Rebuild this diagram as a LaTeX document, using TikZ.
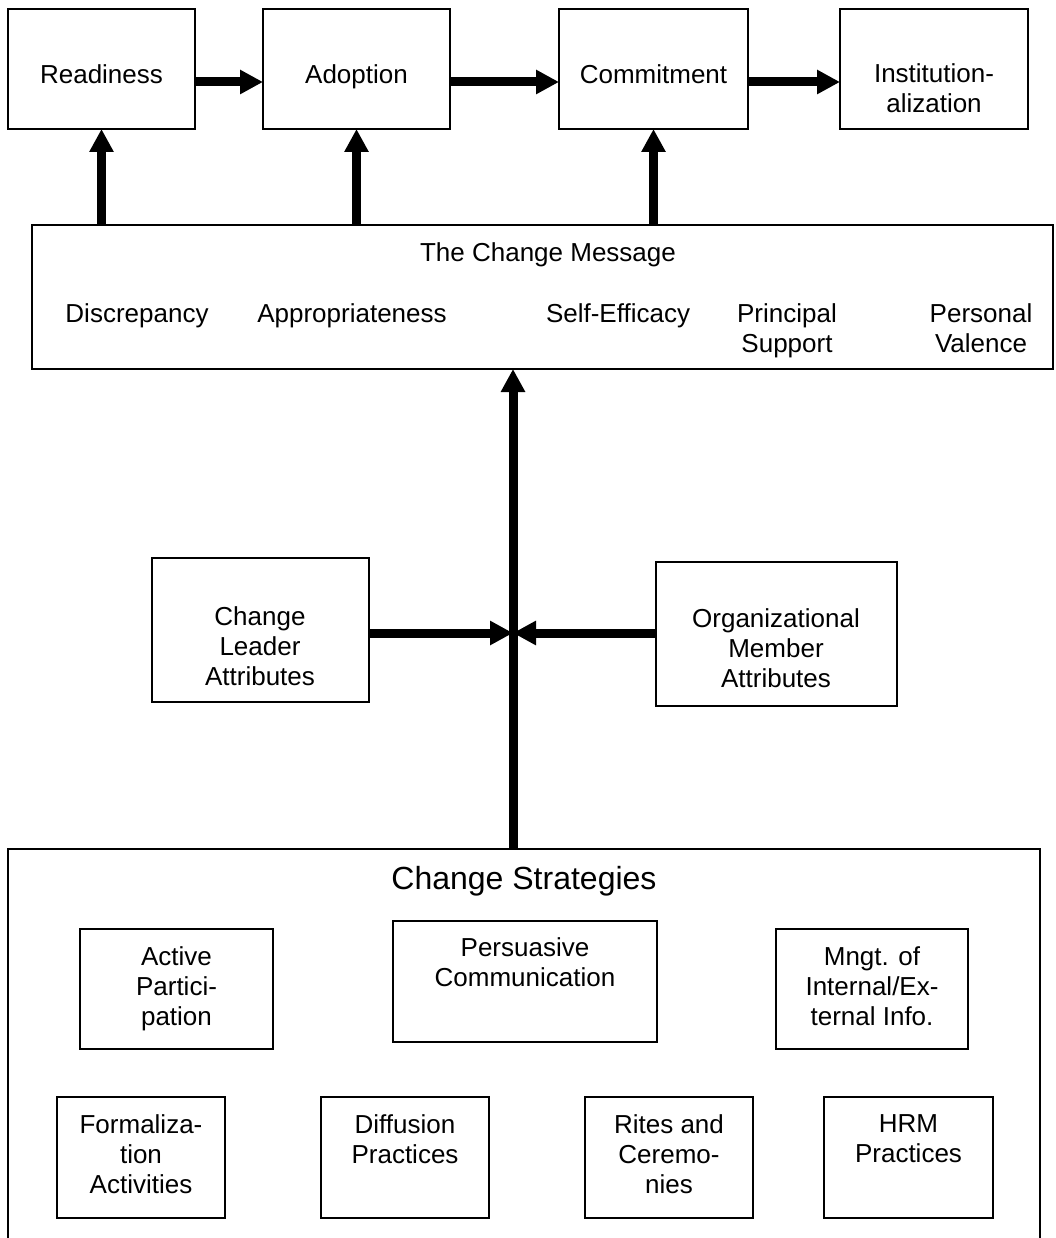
\documentclass[tikz,border=0pt]{standalone}
\usepackage{fontspec}
\setmainfont{Liberation Sans}
\usetikzlibrary{arrows.meta}
\begin{document}
\begin{tikzpicture}[x=1pt,y=-1pt,
  box/.style={draw=black,line width=1.6pt,inner sep=0pt,outer sep=0pt},
  txt/.style={anchor=north,inner sep=0pt,align=center,font=\fontsize{26}{30}\selectfont},
  bigtxt/.style={anchor=north,inner sep=0pt,align=center,font=\fontsize{32}{38}\selectfont},
  fat/.style={line width=9pt,-{Triangle[length=23pt,width=23pt]}}]
\useasboundingbox (0,0) rectangle (1056,1238);
\clip (0,0) rectangle (1056,1238);
% top row
\node[box,minimum width=187pt,minimum height=120pt] (rd) at (101.5,69) {};
\node[box,minimum width=187pt,minimum height=120pt] (ad) at (356.5,69) {};
\node[box,minimum width=189pt,minimum height=120pt] (cm) at (653.5,69) {};
\node[box,minimum width=188pt,minimum height=120pt] (in) at (934,69) {};
\node[txt] (trd) at (101.5,64) {Readiness};
\node[txt] (tad) at (356.5,64) {Adoption};
\node[txt] (tcm) at (653.5,64) {Commitment};
\node[txt] (tin) at (934,63) {Institution-\\alization};
% message box
\node[box,minimum width=1021pt,minimum height=144pt] (msg) at (542.5,297) {};
\node[txt] (tmsg) at (548,242) {The Change Message};
\node[txt] (m1) at (137,303) {Discrepancy};
\node[txt] (m2) at (352,303) {Appropriateness};
\node[txt] (m3) at (618,303) {Self-Efficacy};
\node[txt] (m4) at (787,303) {Principal\\Support};
\node[txt] (m5) at (981,303) {Personal\\Valence};
% attribute boxes
\node[box,minimum width=217pt,minimum height=144pt] (cl) at (260.5,630) {};
\node[box,minimum width=241pt,minimum height=144pt] (om) at (776.5,634) {};
\node[txt] (tcl) at (260,606) {Change\\Leader\\Attributes};
\node[txt] (tom) at (776,608) {Organizational\\Member\\Attributes};
% strategies
\node[box,minimum width=1032pt,minimum height=411pt] (st) at (524,1054.5) {};
\node[bigtxt] (tst) at (524,866) {Change Strategies};
\node[box,minimum width=193pt,minimum height=120pt] (ap) at (176.5,989) {};
\node[box,minimum width=264pt,minimum height=121pt] (pc) at (525,981.5) {};
\node[box,minimum width=192pt,minimum height=120pt] (mg) at (872,989) {};
\node[box,minimum width=168pt,minimum height=121pt] (fa) at (141,1157.5) {};
\node[box,minimum width=168pt,minimum height=121pt] (dp) at (405,1157.5) {};
\node[box,minimum width=168pt,minimum height=121pt] (rc) at (669,1157.5) {};
\node[box,minimum width=169pt,minimum height=121pt] (hr) at (908.5,1157.5) {};
\node[txt] (tap) at (176.5,946) {Active\\Partici-\\pation};
\node[txt] (tpc) at (525,937) {Persuasive\\Communication};
\node[txt] (tmg) at (872,946) {Mngt. of\\Internal/Ex-\\ternal Info.};
\node[txt] (tfa) at (141,1114) {Formaliza-\\tion\\Activities};
\node[txt] (tdp) at (405,1114) {Diffusion\\Practices};
\node[txt] (trc) at (669,1114) {Rites and\\Ceremo-\\nies};
\node[txt] (thr) at (908.5,1114) {HRM\\Practices};
% connectors
\draw[fat] ([yshift=-13pt]rd.east) -- ([yshift=-13pt]ad.west);
\draw[fat] ([yshift=-13pt]ad.east) -- ([yshift=-13pt]cm.west);
\draw[fat] ([yshift=-13pt]cm.east) -- ([yshift=-13pt]in.west);
\draw[fat] (msg.north -| rd.south) -- (rd.south);
\draw[fat] (msg.north -| ad.south) -- (ad.south);
\draw[fat] (msg.north -| cm.south) -- (cm.south);
\coordinate (j) at (513,633);
\draw[fat] (st.north -| j) -- (msg.south -| j);
\draw[fat] (cl.east |- j) -- (j);
\draw[fat] (om.west |- j) -- (j);
\end{tikzpicture}
\end{document}
